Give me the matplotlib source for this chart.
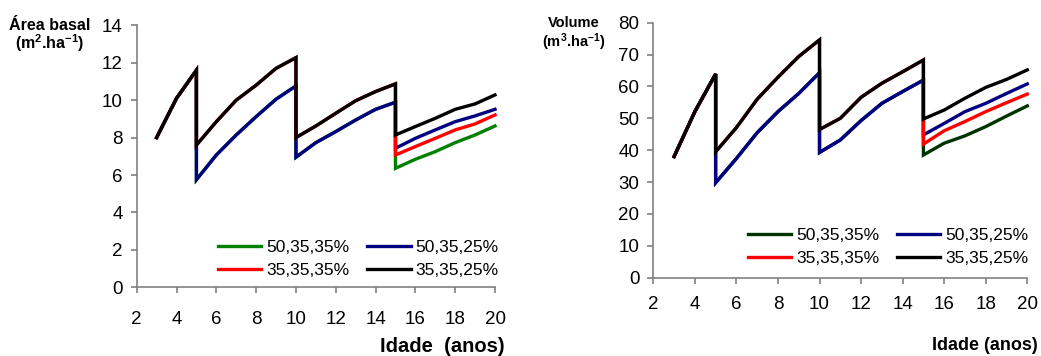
import matplotlib
matplotlib.use("Agg")
import matplotlib.pyplot as plt

plt.rcParams['font.family'] = ['Liberation Sans', 'DejaVu Sans']
plt.rcParams['mathtext.fontset'] = 'custom'
plt.rcParams['mathtext.bf'] = 'Liberation Sans:bold'
plt.rcParams['mathtext.rm'] = 'Liberation Sans'
plt.rcParams['mathtext.default'] = 'bf'

# ages (repeated at thinning years 5, 10, 15)
ages = [3, 4, 5, 5, 6, 7, 8, 9, 10, 10, 11, 12, 13, 14, 15, 15, 16, 17, 18, 19, 20]
labels = ["50,35,35%", "50,35,25%", "35,35,35%", "35,35,25%"]

# basal area (m2/ha)
ba_50_35_35 = [8.0, 10.1, 11.6, 5.75, 7.07, 8.14, 9.12, 10.05, 10.76, 6.95,
               7.73, 8.32, 8.94, 9.51, 9.89, 6.36, 6.84, 7.25, 7.73, 8.14, 8.62]
ba_50_35_25 = [8.0, 10.1, 11.6, 5.75, 7.07, 8.14, 9.12, 10.05, 10.76, 6.95,
               7.73, 8.32, 8.94, 9.51, 9.89, 7.43, 7.96, 8.41, 8.85, 9.16, 9.51]
ba_35_35_35 = [8.0, 10.1, 11.6, 7.6, 8.85, 10.0, 10.8, 11.7, 12.27, 8.0,
               8.62, 9.3, 9.97, 10.46, 10.87, 7.07, 7.52, 7.96, 8.41, 8.73, 9.21]
ba_35_35_25 = [8.0, 10.1, 11.6, 7.6, 8.85, 10.0, 10.8, 11.7, 12.27, 8.0,
               8.62, 9.3, 9.97, 10.46, 10.87, 8.14, 8.59, 9.03, 9.51, 9.8, 10.28]

# volume (m3/ha)
vol_50_35_35 = [38.0, 52.1, 63.9, 29.8, 37.4, 45.5, 52.1, 57.8, 64.3, 39.3,
                43.2, 49.3, 54.7, 58.4, 62.0, 38.5, 42.2, 44.5, 47.4, 50.7, 53.9]
vol_50_35_25 = [38.0, 52.1, 63.9, 29.8, 37.4, 45.5, 52.1, 57.8, 64.3, 39.3,
                43.2, 49.3, 54.7, 58.4, 62.0, 44.8, 48.4, 52.1, 54.7, 57.8, 60.8]
vol_35_35_35 = [38.0, 52.1, 63.9, 39.5, 47.1, 56.0, 62.9, 69.4, 74.6, 46.5,
                50.0, 56.6, 61.0, 64.6, 68.3, 41.9, 46.1, 49.0, 52.1, 54.9, 57.6]
vol_35_35_25 = [38.0, 52.1, 63.9, 39.5, 47.1, 56.0, 62.9, 69.4, 74.6, 46.5,
                50.0, 56.6, 61.0, 64.6, 68.3, 49.8, 52.6, 56.3, 59.7, 62.2, 65.2]

W, H = 1041, 356
fig = plt.figure(figsize=(W / 100, H / 100), dpi=100)


def px_axes(x0, y0, x1, y1):
    return fig.add_axes([x0 / W, 1 - y1 / H, (x1 - x0) / W, (y1 - y0) / H])


def style(ax, ymax, ystep, xpad):
    for s in ("top", "right"):
        ax.spines[s].set_visible(False)
    for s in ("left", "bottom"):
        ax.spines[s].set_color("#808080")
        ax.spines[s].set_linewidth(1.2)
    ax.set_xlim(2, 20)
    ax.set_ylim(0, ymax)
    ax.set_xticks(range(2, 21, 2))
    ax.set_yticks(range(0, ymax + 1, ystep))
    ax.tick_params(axis="both", direction="out", length=4, width=1.2,
                   color="#808080", labelsize=13.5)
    ax.tick_params(axis="y", pad=6)
    ax.tick_params(axis="x", pad=xpad)


def draw(ax, series, colors, anchor):
    handles = []
    for ys, c, lab in zip(series, colors, labels):
        h, = ax.plot(ages, ys, color=c, lw=2.4, label=lab,
                     solid_joinstyle="miter", clip_on=False)
        handles.append(h)
    order = [0, 2, 1, 3]
    ax.legend([handles[i] for i in order], [labels[i] for i in order],
              ncol=2, frameon=False, loc="upper left",
              bbox_to_anchor=anchor, bbox_transform=fig.transFigure,
              borderpad=0, borderaxespad=0, handlelength=2.5,
              handletextpad=0.3, columnspacing=1.0, labelspacing=0.45,
              fontsize=12.5)


# left: basal area
ax1 = px_axes(136.7, 25.3, 495, 287.3)
style(ax1, 14, 2, 13)
draw(ax1, [ba_50_35_35, ba_50_35_25, ba_35_35_35, ba_35_35_25],
     ["#008000", "#000080", "#ff0000", "#000000"], (218 / W, 1 - 240 / H))
fig.text(50 / W, 1 - 25 / H, "Área basal", ha="center", va="center",
         fontsize=11.5, fontweight="bold")
fig.text(50 / W, 1 - 43 / H, r"(m$^{2}$.ha$^{-1}$)", ha="center",
         va="center", fontsize=11.5, fontweight="bold")
fig.text(505 / W, 1 - 347 / H, "Idade  (anos)", ha="right", va="center",
         fontsize=14.5, fontweight="bold")

# right: volume
ax2 = px_axes(653.3, 22.7, 1027.3, 277.7)
style(ax2, 80, 10, 9)
draw(ax2, [vol_50_35_35, vol_50_35_25, vol_35_35_35, vol_35_35_25],
     ["#003300", "#000080", "#ff0000", "#000000"], (747.7 / W, 1 - 228 / H))
fig.text(574 / W, 1 - 23 / H, "Volume", ha="center", va="center",
         fontsize=10.5, fontweight="bold")
fig.text(574 / W, 1 - 42 / H, r"(m$^{3}$.ha$^{-1}$)", ha="center",
         va="center", fontsize=10.5, fontweight="bold")
fig.text(1038 / W, 1 - 346 / H, "Idade (anos)", ha="right", va="center",
         fontsize=13, fontweight="bold")

fig.savefig("out.png", dpi=100)
